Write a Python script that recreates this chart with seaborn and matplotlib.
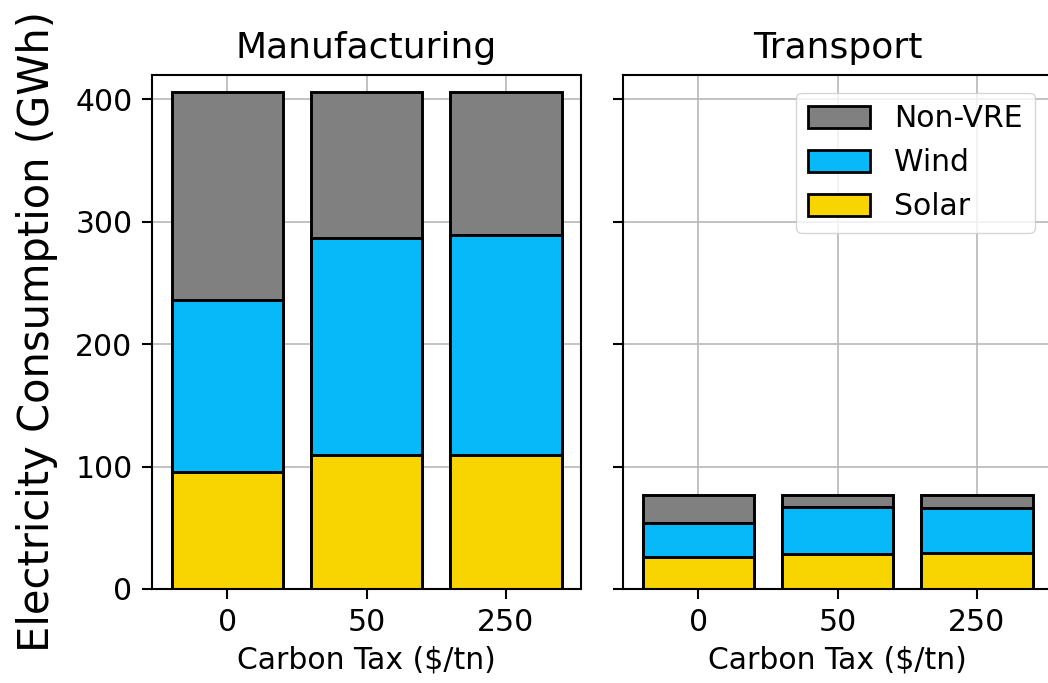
import matplotlib
matplotlib.use("Agg")
import matplotlib.pyplot as plt
import seaborn as sns
import pandas as pd
import numpy as np
from matplotlib.patches import Patch

sectors = ["Manufacturing", "Transport"]
tax_labels = ["0", "50", "250"]

manu_solar = [95.5, 109.5, 109.5]
manu_wind = [140.5, 177.0, 179.5]
manu_nonvre = [170.0, 119.5, 117.0]

trans_solar = [26.5, 29.0, 29.7]
trans_wind = [27.2, 38.2, 36.2]
trans_nonvre = [23.0, 9.5, 10.8]

colors = {"Solar": "#F9D500", "Wind": "#08B9FA", "Non-VRE": "#808080"}

sns.set_style("ticks", rc={"text.color": "black", "axes.labelcolor": "black",
                           "xtick.color": "black", "ytick.color": "black",
                           "axes.edgecolor": "black"})
plt.rcParams["font.family"] = ["DejaVu Sans"]

fig = plt.figure(figsize=(10.48, 6.83), dpi=100)
W, H = 1048, 683
axL = fig.add_axes([152 / W, 1 - 589 / H, 429 / W, 514 / H])
axR = fig.add_axes([623 / W, 1 - 589 / H, 429 / W, 514 / H], sharey=axL)

data = {
    "Manufacturing": (manu_solar, manu_wind, manu_nonvre),
    "Transport": (trans_solar, trans_wind, trans_nonvre),
}

for ax, sector in zip([axL, axR], sectors):
    solar, wind, nonvre = data[sector]
    s = np.array(solar)
    w = np.array(wind)
    n = np.array(nonvre)
    df = pd.DataFrame({
        "tax": tax_labels,
        "Solar": s,
        "Wind": s + w,
        "Non-VRE": s + w + n,
    })
    for col in ["Non-VRE", "Wind", "Solar"]:
        sns.barplot(data=df, x="tax", y=col, color=colors[col], saturation=1,
                    edgecolor="black", linewidth=2.1, width=0.8, ax=ax, zorder=2)
    ax.set_axisbelow(True)
    ax.xaxis.grid(True, color="#b8b8b8", linewidth=1.2)
    ax.yaxis.grid(True, color="#b8b8b8", linewidth=1.2)
    ax.set_xlim(-0.54, 2.54)
    ax.set_ylim(0, 420)
    ax.set_title(sector, fontsize=26, pad=12)
    ax.set_xlabel("Carbon Tax ($/tn)", fontsize=21.5, labelpad=6)
    ax.set_ylabel("")
    ax.tick_params(axis="both", labelsize=21.5, length=7, width=1.5,
                   direction="out", pad=7)
    for sp in ax.spines.values():
        sp.set_visible(True)
        sp.set_linewidth(1.5)
        sp.set_color("black")

axL.set_yticks([0, 100, 200, 300, 400])
axR.tick_params(axis="y", labelleft=False)

fig.text(37 / W, 1 - 332 / H, "Electricity Consumption (GWh)", rotation=90,
         fontsize=30, ha="center", va="center")

handles = [Patch(facecolor=colors[k], edgecolor="black", linewidth=2.0, label=k)
           for k in ["Non-VRE", "Wind", "Solar"]]
axR.legend(handles=handles, loc="upper right", fontsize=21.5, frameon=True,
           bbox_to_anchor=(0.995, 0.995), handlelength=2.1, handleheight=0.75,
           borderpad=0.4, labelspacing=0.5, handletextpad=0.8)

fig.savefig("out.png", dpi=100)
